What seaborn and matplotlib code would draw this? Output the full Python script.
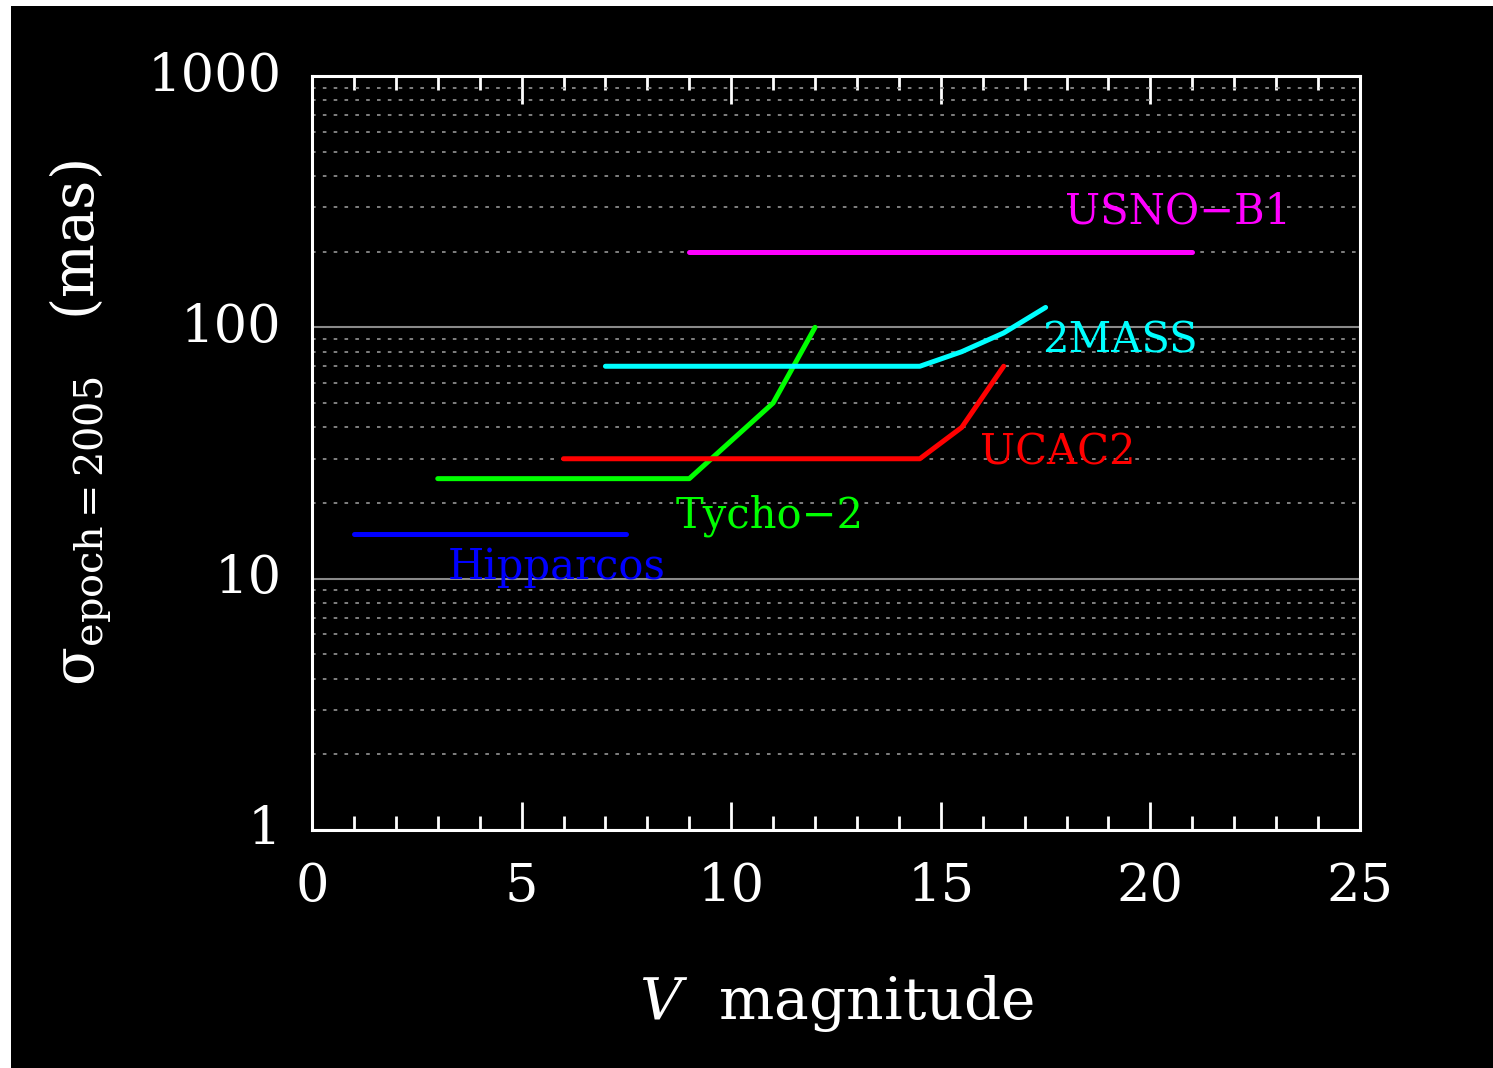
import numpy as np
import pandas as pd
import matplotlib
matplotlib.use("Agg")
import matplotlib.pyplot as plt
from matplotlib.patches import Rectangle
from matplotlib.ticker import FixedLocator, LogLocator, NullFormatter, FixedFormatter
import seaborn as sns

# ---- data ----
catalogs = ["Hipparcos", "Tycho\u22122", "UCAC2", "2MASS", "USNO\u2212B1"]
hip_v = [1.0, 7.5]
hip_sigma = [15, 15]
tyc_v = [3.0, 9.0, 11.0, 12.0]
tyc_sigma = [25, 25, 50, 100]
ucac_v = [6.0, 14.5, 15.5, 16.5]
ucac_sigma = [30, 30, 40, 70]
tmass_v = [7.0, 14.5, 15.5, 16.5, 17.5]
tmass_sigma = [70, 70, 80, 95, 120]
usno_v = [9.0, 21.0]
usno_sigma = [200, 200]
x_ticks = [0, 5, 10, 15, 20, 25]
y_ticks = [1, 10, 100, 1000]
y_tick_labels = ["1", "10", "100", "1000"]

series_v = [hip_v, tyc_v, ucac_v, tmass_v, usno_v]
series_s = [hip_sigma, tyc_sigma, ucac_sigma, tmass_sigma, usno_sigma]
colors = ["#0000FF", "#00FF00", "#FF0000", "#00FFFF", "#FF00FF"]
label_pos = [(5.84, 11.1), (10.93, 17.8), (17.8, 31.9), (19.27, 89), (20.66, 288)]

rows = []
for name, vs, ss in zip(catalogs, series_v, series_s):
    for i, (v, s) in enumerate(zip(vs, ss)):
        rows.append({"catalog": name, "V": v, "sigma": s, "order": i})
df = pd.DataFrame(rows)

sns.set_theme(style="ticks")
plt.rcParams["font.family"] = ["DejaVu Serif"]
plt.rcParams["mathtext.fontset"] = "dejavuserif"

W, H = 1493, 1068
fig = plt.figure(figsize=(W / 100, H / 100), dpi=100, facecolor="white")
fig.patches.append(Rectangle((11 / W, 0), 1 - 11 / W, 1 - 6 / H,
                             transform=fig.transFigure, facecolor="black",
                             edgecolor="none", zorder=-10))
ax = fig.add_axes([312 / W, 1 - 830 / H, (1360 - 312) / W, (830 - 76) / H])
ax.set_zorder(1)
ax.set_facecolor("black")

for name, col in zip(catalogs, colors):
    sub = df[df["catalog"] == name]
    sns.lineplot(data=sub, x="V", y="sigma", color=col, linewidth=3.6,
                 estimator=None, sort=False, ax=ax, legend=False, zorder=3)

ax.set_yscale("log")
ax.set_xlim(0, 25)
ax.set_ylim(1, 1000)

# grid
ax.yaxis.set_major_locator(FixedLocator(y_ticks))
ax.yaxis.set_major_formatter(FixedFormatter(y_tick_labels))
ax.yaxis.set_minor_locator(LogLocator(base=10, subs=np.arange(2, 10)))
ax.yaxis.set_minor_formatter(NullFormatter())
ax.grid(False)
ax.grid(True, axis="y", which="major", color="#8a8a8a", linewidth=1.5, linestyle="-", zorder=1)
ax.grid(True, axis="y", which="minor", color="#8a8a8a", linewidth=1.3,
        linestyle=(0, (2, 4)), zorder=1)

ax.xaxis.set_major_locator(FixedLocator(x_ticks))
ax.xaxis.set_minor_locator(FixedLocator(np.arange(0, 26, 1)))
ax.tick_params(axis="x", which="major", direction="in", length=20, width=2,
               color="white", top=True, bottom=True, labelsize=38,
               labelcolor="white", pad=22)
ax.tick_params(axis="x", which="minor", direction="in", length=10, width=2,
               color="white", top=True, bottom=True)
ax.tick_params(axis="y", which="both", length=0, labelsize=38,
               labelcolor="white", pad=22)
for lbl in ax.get_yticklabels():
    lbl.set_verticalalignment("center")

for sp in ax.spines.values():
    sp.set_color("white")
    sp.set_linewidth(2.2)
    sp.set_zorder(4)

ax.set_xlabel(r"$V$  magnitude", color="white", fontsize=42, labelpad=44)
ax.set_ylabel("\u03c3" + r"$_{\mathrm{epoch=2005}}$   (mas)", color="white",
              fontsize=41)
ax.yaxis.set_label_coords(-0.19, 0.54)

for name, col, (lx, ly) in zip(catalogs, colors, label_pos):
    ax.text(lx, ly, name, color=col, fontsize=30, ha="center", va="center", zorder=5)

fig.savefig("out.png", dpi=100, facecolor="white")
